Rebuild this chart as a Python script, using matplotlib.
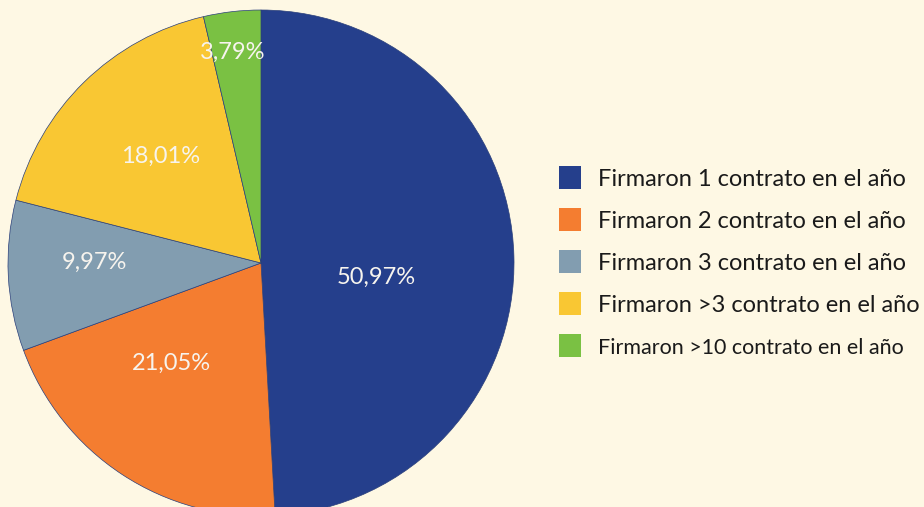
import numpy as np
import matplotlib.pyplot as plt
from matplotlib.patches import Patch

# data
categorias = ["Firmaron 1 contrato en el año",
              "Firmaron 2 contrato en el año",
              "Firmaron 3 contrato en el año",
              "Firmaron >3 contrato en el año",
              "Firmaron >10 contrato en el año"]
valores = [50.97, 21.05, 9.97, 18.01, 3.79]
etiquetas = ["50,97%", "21,05%", "9,97%", "18,01%", "3,79%"]

colores = ["#253F8C", "#F47D30", "#829DB0", "#F9C733", "#7AC143"]
fondo = "#FEF8E4"

# where each percentage sits (fraction of radius, angle shift in degrees)
lab_r = [0.46, 0.53, 0.66, 0.58, 0.84]
lab_shift = [-8.5, -8.5, -3, -1, 1]

fig = plt.figure(figsize=(9.24, 5.07), dpi=100)
fig.patch.set_facecolor(fondo)

W, H = 924, 507
cx, cy, R = 261, 263, 253
ax = fig.add_axes([(cx - R) / W, (H - cy - R) / H, 2 * R / W, 2 * R / H])
ax.set_facecolor(fondo)

wedges, _ = ax.pie(valores, colors=colores, startangle=90, counterclock=False,
                   radius=1, wedgeprops=dict(linewidth=0.5, edgecolor="#2A3F7A"))
ax.set_xlim(-1, 1)
ax.set_ylim(-1, 1)
ax.set_aspect("equal")
ax.axis("off")

for w, txt, r, s in zip(wedges, etiquetas, lab_r, lab_shift):
    ang = np.deg2rad((w.theta1 + w.theta2) / 2 + s)
    ax.text(r * np.cos(ang), r * np.sin(ang), txt, ha="center", va="center",
            color="#F7F4EE", fontsize=17, family=["Lato", "DejaVu Sans"])

handles = [Patch(facecolor=c, edgecolor="none") for c in colores]
leg = fig.legend(handles, categorias, loc="upper left",
                 bbox_to_anchor=(550 / W, 1 - 157 / H), frameon=False,
                 prop=dict(family=["Lato", "DejaVu Sans"], size=17),
                 handlelength=0.9, handleheight=1.1, handletextpad=0.75,
                 labelspacing=0.79, borderaxespad=0)
for t in leg.get_texts():
    t.set_color("#1A1A1A")
# the last entry is set tighter in the original
leg.get_texts()[-1].set_fontsize(15.5)

fig.savefig("out.png", dpi=100, facecolor=fondo)
